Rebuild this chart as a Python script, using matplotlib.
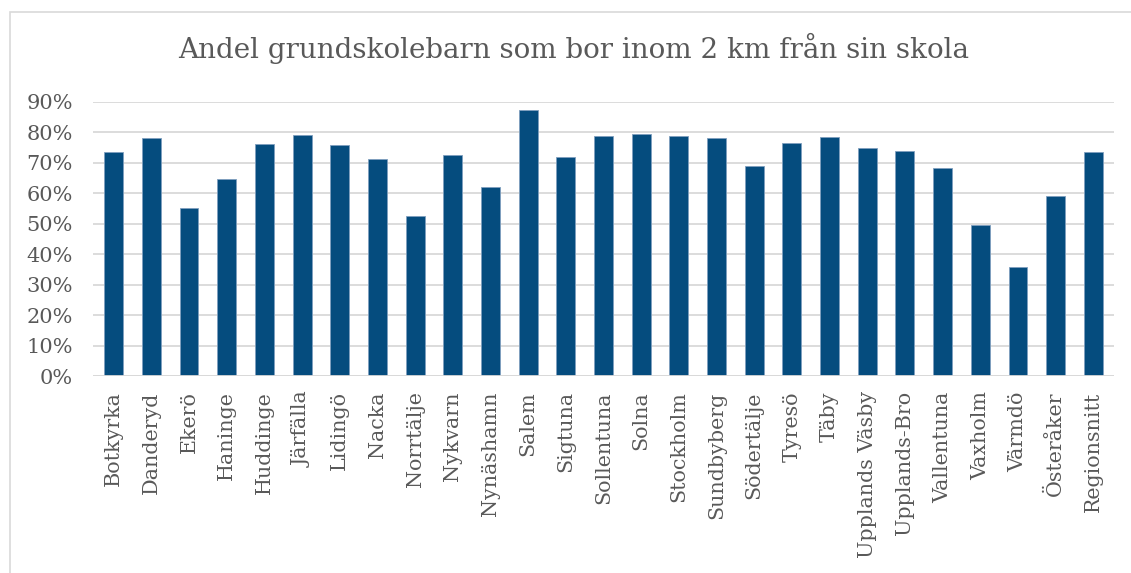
import matplotlib
matplotlib.use("Agg")
import matplotlib.pyplot as plt
from matplotlib.ticker import FuncFormatter, MultipleLocator
from matplotlib.patches import Rectangle

categories = ["Botkyrka", "Danderyd", "Ekerö", "Haninge", "Huddinge", "Järfälla",
              "Lidingö", "Nacka", "Norrtälje", "Nykvarn", "Nynäshamn", "Salem",
              "Sigtuna", "Sollentuna", "Solna", "Stockholm", "Sundbyberg",
              "Södertälje", "Tyresö", "Täby", "Upplands Väsby", "Upplands-Bro",
              "Vallentuna", "Vaxholm", "Värmdö", "Österåker", "Regionsnitt"]
values = [0.735, 0.782, 0.550, 0.646, 0.760, 0.790, 0.757, 0.713, 0.526,
          0.725, 0.620, 0.873, 0.718, 0.788, 0.793, 0.786, 0.782, 0.689,
          0.765, 0.784, 0.749, 0.739, 0.682, 0.494, 0.356, 0.590, 0.735]
title = "Andel grundskolebarn som bor inom 2 km från sin skola"

W, H = 1131, 573
fig = plt.figure(figsize=(W / 100, H / 100), dpi=100)
fig.patch.set_facecolor("white")
fig.patches.append(Rectangle((10 / W, -0.01), 1.02, 1 - 11.5 / H + 0.01,
                             transform=fig.transFigure, fill=False,
                             edgecolor="#d9d9d9", linewidth=1.2))

ax = fig.add_axes([93 / W, 1 - 376 / H, (1114 - 93) / W, (376 - 101.7) / H])
x = list(range(len(categories)))
ax.bar(x, values, width=0.5, color="#054C7E", edgecolor="#7f9fbf",
       linewidth=0.6, zorder=2)
ax.set_xlim(-0.55, len(categories) - 0.45)
ax.set_ylim(0, 0.9)
ax.yaxis.set_major_locator(MultipleLocator(0.1))
ax.yaxis.set_major_formatter(FuncFormatter(lambda v, p: f"{v*100:.0f}%"))
ax.grid(axis="y", color="#d9d9d9", linewidth=1.3, zorder=0)
ax.set_axisbelow(True)
for s in ax.spines.values():
    s.set_visible(False)
ax.axhline(0, color="#d9d9d9", linewidth=1.3, zorder=3)
ax.tick_params(axis="both", length=0, colors="#595959")
ax.tick_params(axis="y", pad=14.4)
ax.set_xticks(x)
ax.set_xticklabels(categories, rotation=90, family="DejaVu Serif",
                   fontsize=14.9, color="#595959")
for lab in ax.get_yticklabels():
    lab.set_family("DejaVu Serif")
    lab.set_fontsize(15)
    lab.set_color("#595959")
ax.tick_params(axis="x", pad=11)

fig.text(574 / W, 1 - 48 / H, title, ha="center", va="center",
         family="DejaVu Serif", fontsize=20, color="#595959")

fig.savefig("out.png", dpi=100)
